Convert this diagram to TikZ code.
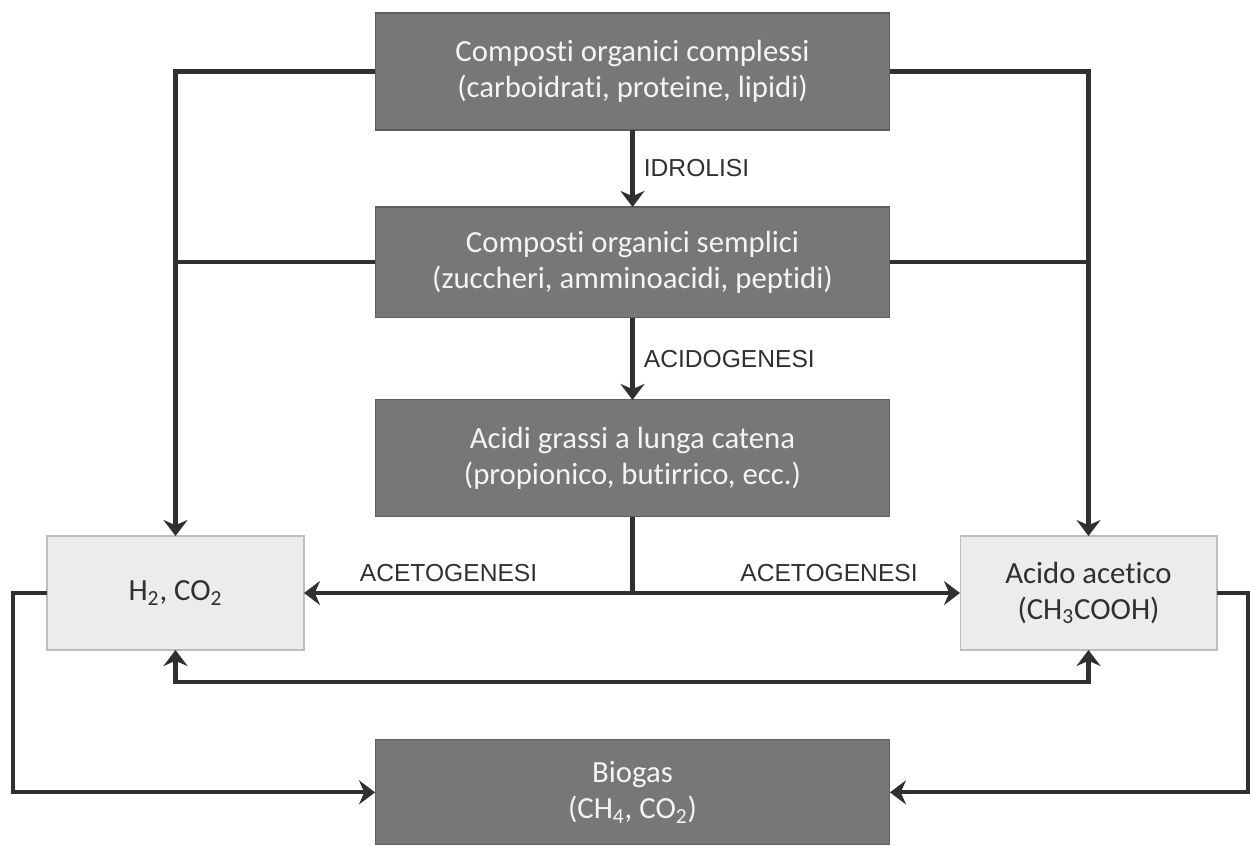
\documentclass[tikz,border=0pt]{standalone}
\usepackage{fontspec}
\setmainfont{Carlito}[RawFeature=-liga]
\newfontfamily\stagefont{Liberation Sans}
\usepackage{tikz}
\usetikzlibrary{arrows.meta, positioning}

\definecolor{boxgray}{HTML}{777777}
\definecolor{boxedge}{HTML}{5E5E5E}
\definecolor{boxtext}{HTML}{F4F4F4}
\definecolor{lightfill}{HTML}{ECECEC}
\definecolor{lightedge}{HTML}{BDBDBD}
\definecolor{linecol}{HTML}{303030}

\begin{document}
\begin{tikzpicture}[
  x=0.02cm, y=-0.02cm,
  darkbox/.style={rectangle, draw=boxedge, fill=boxgray, text=boxtext,
                  minimum width=10.3cm, align=center, outer sep=0pt,
                  line width=0.6pt, font=\fontsize{17.5}{20.5}\selectfont},
  lightbox/.style={rectangle, draw=lightedge, fill=lightfill, text=linecol,
                   minimum width=5.14cm, minimum height=2.28cm, align=center,
                   outer sep=0pt, line width=0.6pt,
                   font=\fontsize{17.5}{20.5}\selectfont},
  arr/.style={-{Stealth[length=3.2mm, width=4.8mm]}, line width=2.3pt, draw=linecol},
  link/.style={line width=2.3pt, draw=linecol},
  stage/.style={font=\stagefont\fontsize{14}{16}\selectfont, text=linecol},
]
\useasboundingbox (0,0) rectangle (1250,845);

\node[darkbox, minimum height=2.34cm] (complex) at (632.5,71.5)
  {Composti organici complessi\\(carboidrati, proteine, lipidi)};
\node[darkbox, minimum height=2.22cm, below=1.54cm of complex] (simple)
  {Composti organici semplici\\(zuccheri, amminoacidi, peptidi)};
\node[darkbox, minimum height=2.34cm, below=1.64cm of simple] (fatty)
  {Acidi grassi a lunga catena\\(propionico, butirrico, ecc.)};
\node[lightbox] (hydrogen) at (175.5,593) {H\textsubscript{2}, CO\textsubscript{2}};
\node[lightbox] (acetic) at (1088.5,593) {Acido acetico\\(CH\textsubscript{3}COOH)};
\node[darkbox, minimum height=2.1cm, below=4.46cm of fatty] (biogas)
  {Biogas\\(CH\textsubscript{4}, CO\textsubscript{2})};

\coordinate (split) at (fatty.south |- hydrogen.east);
\coordinate (low) at (632.5,682);

% main chain
\draw[arr] (complex) -- node[stage, right=2pt]{IDROLISI} (simple);
\draw[arr] (simple) -- node[stage, right=2pt]{ACIDOGENESI} (fatty);
\draw[link] (fatty.south) -- (split);
\draw[arr] (split) -- node[stage, above=2pt, pos=0.56]{ACETOGENESI} (hydrogen.east);
\draw[arr] (split) -- node[stage, above=2pt, pos=0.6]{ACETOGENESI} (acetic.west);

% side branches
\draw[arr] (complex.west) -| (hydrogen.north);
\draw[link] (simple.west) -- (simple.west -| hydrogen.north);
\draw[arr] (complex.east) -| (acetic.north);
\draw[link] (simple.east) -- (simple.east -| acetic.north);

% exchange and biogas
\draw[arr, {Stealth[length=3.2mm, width=4.8mm]}-{Stealth[length=3.2mm, width=4.8mm]}]
  (hydrogen.south) |- (low) -| (acetic.south);
\draw[arr] (hydrogen.west) -- ++(-34,0) |- (biogas.west);
\draw[arr] (acetic.east) -- ++(31,0) |- (biogas.east);
\end{tikzpicture}
\end{document}
